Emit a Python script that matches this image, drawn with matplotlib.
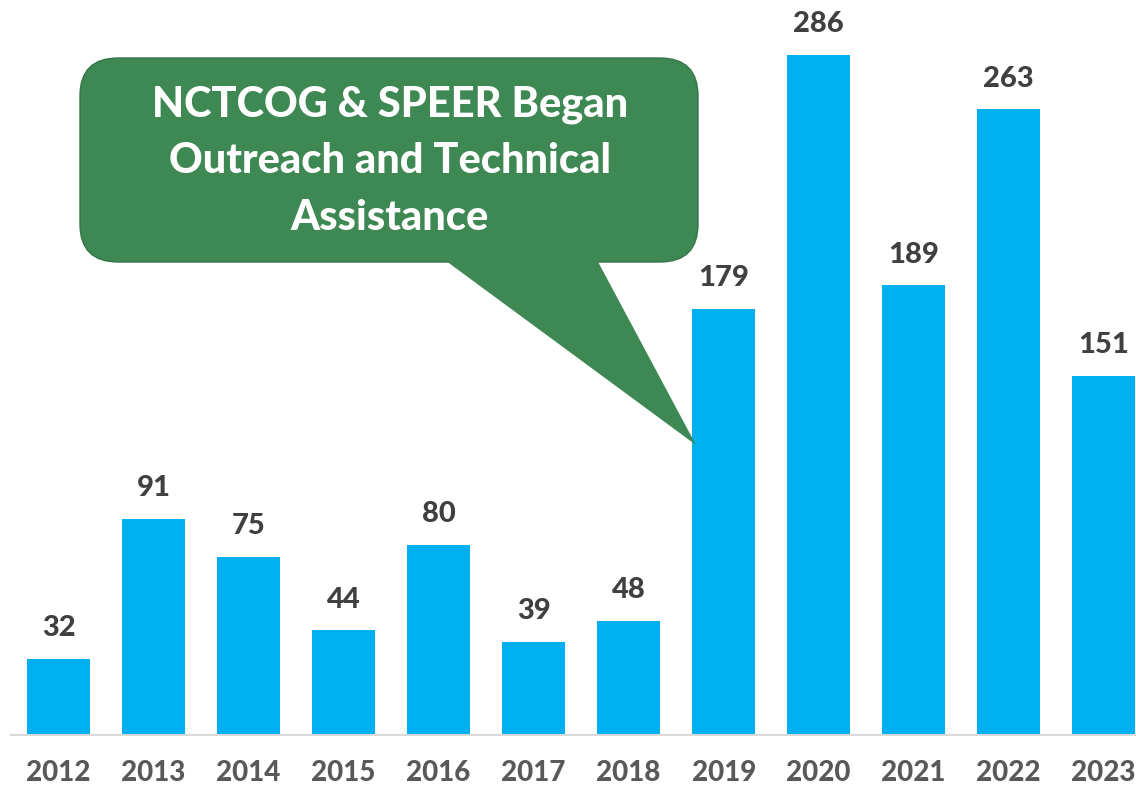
import matplotlib.pyplot as plt
from matplotlib.patches import FancyBboxPatch, Polygon

years = ["2012", "2013", "2014", "2015", "2016", "2017", "2018",
         "2019", "2020", "2021", "2022", "2023"]
counts = [32, 91, 75, 44, 80, 39, 48, 179, 286, 189, 263, 151]
callout_text = "NCTCOG & SPEER Began\nOutreach and Technical\nAssistance"

W, H = 1136, 788
plt.rcParams['font.family'] = ['Lato', 'DejaVu Sans']

fig = plt.figure(figsize=(W / 100, H / 100), dpi=100)
ax = fig.add_axes([11 / W, (H - 735) / H, (W - 11) / W, 735 / H])

x = range(len(years))
bars = ax.bar(x, counts, width=0.66, color="#00B0F0", zorder=2)
ax.set_xlim(-0.5, 11.34)
ax.set_ylim(0, 309)

for rect, v in zip(bars, counts):
    ax.text(rect.get_x() + rect.get_width() / 2, v + 7.5, str(v),
            ha="center", va="bottom", fontsize=21, fontweight="black",
            color="#404040")

ax.set_xticks(list(x))
ax.set_xticklabels(years, fontsize=20, fontweight="black", color="#595959")
ax.tick_params(axis="x", length=0, pad=18)
ax.set_yticks([])
for s in ["top", "right", "left"]:
    ax.spines[s].set_visible(False)
ax.spines["bottom"].set_color("#d9d9d9")
ax.spines["bottom"].set_linewidth(1.5)

# callout overlay in pixel coordinates
ov = fig.add_axes([0, 0, 1, 1], zorder=5)
ov.set_xlim(0, W)
ov.set_ylim(H, 0)
ov.axis("off")
green = "#3E8853"
ov.add_patch(FancyBboxPatch((80, 58), 618, 204,
                            boxstyle="round,pad=0,rounding_size=38",
                            facecolor=green, edgecolor="#357548", linewidth=1))
ov.add_patch(Polygon([(442, 258), (596, 258), (696, 445)], closed=True,
                     facecolor=green, edgecolor="none"))
ov.text(390, 161, callout_text, ha="center", va="center", fontsize=30,
        fontweight="black", color="white", linespacing=1.6)

fig.savefig("out.png", dpi=100)
